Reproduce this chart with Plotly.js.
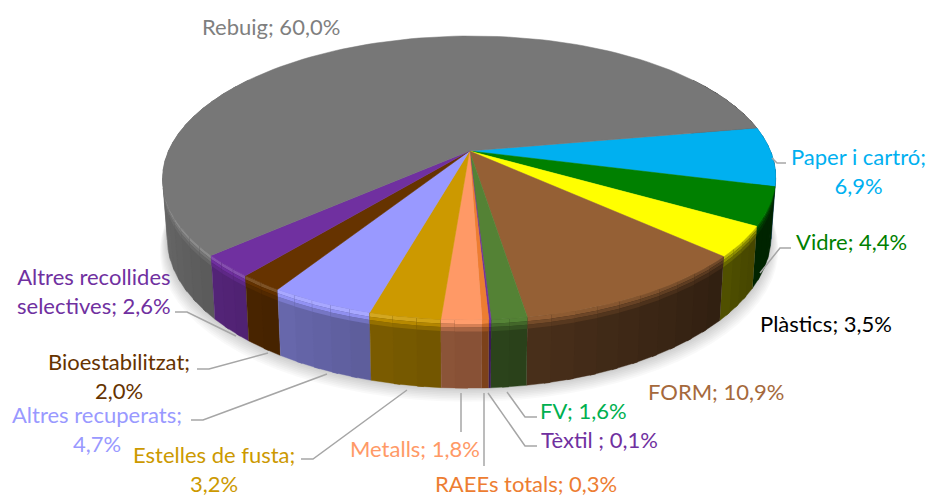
<!DOCTYPE html>
<html>
<head>
<meta charset="utf-8">
<script src="https://cdn.plot.ly/plotly-3.0.1.min.js"></script>
<style>html,body{margin:0;padding:0;background:#fff}#chart{width:930px;height:497px}</style>
</head>
<body>
<div id="chart"></div>
<script>
// Data, in pie order (clockwise)
const categories = ["Paper i cartró","Vidre","Plàstics","FORM","FV","Tèxtil ","RAEEs totals","Metalls","Estelles de fusta","Altres recuperats","Bioestabilitzat","Altres recollides selectives","Rebuig"];
const values = [6.9,4.4,3.5,10.9,1.6,0.1,0.3,1.8,3.2,4.7,2.0,2.6,60.0];
const colors = ["#00B0F0","#008000","#FFFF00","#956035","#548235","#7030A0","#ED7D31","#FF9966","#CC9900","#9999FF","#663300","#7030A0","#777777"];
const labelTexts = ["Rebuig; 60,0%","Paper i cartró;<br>6,9%","Vidre; 4,4%","Plàstics; 3,5%","FORM; 10,9%","FV; 1,6%","Tèxtil ; 0,1%","RAEEs totals; 0,3%","Metalls; 1,8%","Estelles de fusta;<br>3,2%","Altres recuperats;<br>4,7%","Bioestabilitzat;<br>2,0%","Altres recollides<br>selectives; 2,6%"];
const labelColors = ["#7F7F7F","#00B0F0","#008000","#000000","#A5693C","#00B050","#7030A0","#ED7D31","#FF9966","#CC9900","#9999FF","#663300","#7030A0"];
const labelX = [271,858,851,826,716,583,599,526,415,214,97,119,94];
const labelY = [26,171,241,323,391,410,439,483,448,469,429,376,291];
const leaders = [
  "M772,158L777,163L786,163","M760,273L780,248L791,248","M175,312L187,312L236,336",
  "M197,369L209,369L268,353","M191,420L203,420L327,374","M301,459L313,459L407,390",
  "M461,393L461,432","M484,393L484,466","M488,393L525,446L537,446","M507,392L525,417L537,417"
];

// Projection of the tilted disc
const CX=469.5, CY=151, B=301, A=136.9, K=0.19, START=80, SKEW=-2;
const BOTY=208, BOTA=146, BOTS=0.985;
const rad=d=>d*Math.PI/180;
function topPt(phi){const u=Math.sin(rad(phi)),v=-Math.cos(rad(phi)),s=1/(1-K*v);return [CX+B*u*s+SKEW*v,CY+A*v*s];}
function botPt(phi){const u=Math.sin(rad(phi)),v=-Math.cos(rad(phi)),s=1/(1-K*v);return [CX+B*BOTS*u*s+SKEW*v,BOTY+BOTA*v*s];}
function mix(a,b,t){return [a[0]+(b[0]-a[0])*t,a[1]+(b[1]-a[1])*t];}
function hexRgb(h){return [1,3,5].map(i=>parseInt(h.substr(i,2),16));}
function shade(hex,f){const c=hexRgb(hex).map(x=>f<=1?x*f:x+(255-x)*(f-1));return `rgb(${c.map(Math.round).join(",")})`;}
function wallF(phi){return Math.min(0.9,Math.max(0.28,0.4+(phi-150)*0.0045));}
function lightF(phi){return Math.min(1.15,Math.max(0.72,0.72+(phi-130)*0.0065));}

const total=values.reduce((a,b)=>a+b,0);
let acc=START; const spans=values.map(v=>{const s=[acc,acc+v/total*360];acc=s[1];return s;});
const traces=[];
const poly=(pts,color,name,lw)=>traces.push({type:"scatter",mode:"lines",x:pts.map(p=>p[0]),y:pts.map(p=>p[1]),fill:"toself",fillcolor:color,line:{color:color,width:lw},hoverinfo:"skip",showlegend:false,name:name||""});

// soft shadow
for(let i=8;i>=1;i--){
  const pts=[];for(let p=0;p<=360;p+=4){const b=botPt(p);pts.push([CX+(b[0]-CX)*(1+i*0.003),b[1]+i*1.7]);}
  traces.push({type:"scatter",mode:"lines",x:pts.map(p=>p[0]),y:pts.map(p=>p[1]),fill:"toself",fillcolor:"rgba(0,0,0,0.022)",line:{width:0},hoverinfo:"skip",showlegend:false});
}
// walls: one base per slice, then overlapping shaded strips
const bands=[[0,0.06,0],[0.06,0.11,1],[0.11,0.17,2]];
const segs=[];
spans.forEach((s,i)=>{
  const ranges=[];[[s[0],s[1]],[s[0]-360,s[1]-360]].forEach(r=>{const a=Math.max(r[0],55),b=Math.min(r[1],305);if(b>a)ranges.push([a,b]);});
  ranges.forEach(r=>{
    const n=Math.max(1,Math.ceil((r[1]-r[0])/4));
    for(let j=0;j<n;j++){
      const a=r[0]+(r[1]-r[0])*j/n,b=r[0]+(r[1]-r[0])*(j+1)/n,mid=(a+b)/2;
      segs.push({i,mid,a:mid<180?a:Math.max(r[0],a-1),b:mid<180?Math.min(r[1],b+1):b});
    }
  });
});
segs.sort((p,q)=>Math.abs(q.mid-180)-Math.abs(p.mid-180));
segs.forEach(g=>{
  const w=wallF(g.mid),l=lightF(g.mid);
  const steps=[];for(let q=0;q<=3;q++)steps.push(g.a+(g.b-g.a)*q/3);
  const base=[];steps.forEach(p=>base.push(topPt(p)));steps.slice().reverse().forEach(p=>base.push(botPt(p)));
  poly(base,shade(colors[g.i],w),categories[g.i],0.4);
  bands.forEach(bd=>{
    const f=bd[2]===0?l:bd[2]===1?(l*0.6+w*0.4):(l*0.25+w*0.75);
    const pts=[];
    steps.forEach(p=>pts.push(mix(topPt(p),botPt(p),bd[0])));
    steps.slice().reverse().forEach(p=>pts.push(mix(topPt(p),botPt(p),bd[1])));
    poly(pts,shade(colors[g.i],f),categories[g.i],0);
  });
});
// top faces
spans.forEach((s,i)=>{
  const pts=[[CX,CY]];const n=Math.max(2,Math.ceil((s[1]-s[0])/2));
  for(let j=0;j<=n;j++)pts.push(topPt(s[0]+(s[1]-s[0])*j/n));
  pts.push([CX,CY]);
  poly(pts,colors[i],categories[i],0.5);
});

const annotations=labelTexts.map((t,i)=>({xref:"x",yref:"y",x:labelX[i],y:labelY[i],text:t,showarrow:false,xanchor:"center",yanchor:"middle",align:"center",font:{family:"Lato, Carlito, sans-serif",size:22,color:labelColors[i]}}));
const shapes=leaders.map(p=>({type:"path",path:p,xref:"x",yref:"y",line:{color:"#A6A6A6",width:1.5},layer:"above"}));

Plotly.newPlot("chart",traces,{
  width:930,height:497,margin:{l:0,r:0,t:0,b:0},paper_bgcolor:"#fff",plot_bgcolor:"#fff",showlegend:false,
  xaxis:{range:[0,930],visible:false,fixedrange:true},
  yaxis:{range:[497,0],visible:false,fixedrange:true},
  annotations,shapes,hovermode:false
},{displayModeBar:false,staticPlot:true});
</script>
</body>
</html>
